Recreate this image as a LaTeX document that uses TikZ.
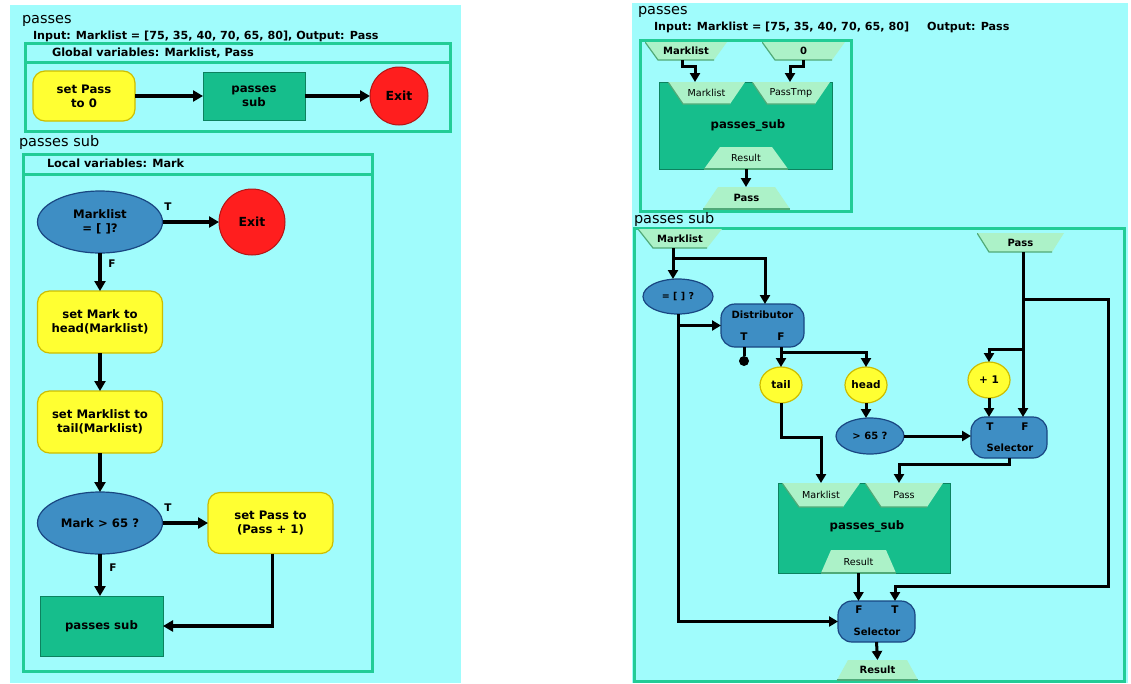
\documentclass[tikz,border=0pt]{standalone}
\usepackage{fontspec}
\setmainfont{DejaVu Sans}
\usetikzlibrary{arrows.meta,calc,shapes.geometric}
\definecolor{bgcyan}{RGB}{160,252,252}
\definecolor{framegreen}{RGB}{34,204,150}
\definecolor{boxgreen}{RGB}{22,190,140}
\definecolor{boxgreendk}{RGB}{12,130,95}
\definecolor{portgreen}{RGB}{172,242,200}
\definecolor{portgreendk}{RGB}{80,170,120}
\definecolor{decblue}{RGB}{62,142,196}
\definecolor{decbluedk}{RGB}{25,70,130}
\definecolor{actyellow}{RGB}{255,255,50}
\definecolor{actyellowdk}{RGB}{205,190,0}
\definecolor{exitred}{RGB}{255,30,30}
\definecolor{exitreddk}{RGB}{180,20,20}
\begin{document}
\begin{tikzpicture}[x=1pt,y=-1pt,
  every node/.style={inner sep=0pt, outer sep=0pt, align=center, font=\bfseries\fontsize{11.7}{14}\selectfont},
  title/.style={font=\fontsize{14.5}{16}\selectfont},
  inputtxt/.style={font=\bfseries\fontsize{11.15}{13}\selectfont},
  hdr/.style={font=\bfseries\fontsize{11.3}{13}\selectfont},
  frame/.style={draw=framegreen, line width=3pt},
  action/.style={draw=actyellowdk, fill=actyellow, line width=1.2pt, rounded corners=12pt},
  subbox/.style={draw=boxgreendk, fill=boxgreen, line width=1pt},
  dec/.style={ellipse, draw=decbluedk, fill=decblue, line width=1.2pt},
  blk/.style={draw=decbluedk, fill=decblue, line width=1.2pt, rounded corners=14pt},
  exitc/.style={circle, draw=exitreddk, fill=exitred, line width=1pt, font=\bfseries\fontsize{12.5}{14}\selectfont},
  yc/.style={ellipse, draw=actyellowdk, fill=actyellow, line width=1.2pt, font=\bfseries\fontsize{10.5}{12}\selectfont},
  tf/.style={font=\bfseries\fontsize{10.5}{12}\selectfont},
  sm/.style={font=\bfseries\fontsize{10}{11}\selectfont},
  portin/.style n args={3}{minimum width=#1pt, minimum height=#2pt,
    path picture={
      \fill[portgreen] (path picture bounding box.north west) -- (path picture bounding box.north east)
        -- ([xshift=-#3pt]path picture bounding box.south east) -- ([xshift=#3pt]path picture bounding box.south west) -- cycle;
      \draw[portgreendk, line width=1.2pt] (path picture bounding box.north west) -- ([xshift=#3pt]path picture bounding box.south west)
        -- ([xshift=-#3pt]path picture bounding box.south east);}},
  portout/.style n args={3}{minimum width=#1pt, minimum height=#2pt,
    path picture={
      \fill[portgreen] ([xshift=#3pt]path picture bounding box.north west) -- ([xshift=-#3pt]path picture bounding box.north east)
        -- (path picture bounding box.south east) -- (path picture bounding box.south west) -- cycle;
      \draw[portgreendk, line width=1.2pt] (path picture bounding box.south west) -- (path picture bounding box.south east);}},
  plabel/.style={font=\fontsize{9.6}{11}\selectfont},
  plabelb/.style={font=\bfseries\fontsize{10}{11}\selectfont},
  arrL/.style={line width=3.5pt, -{Triangle[length=10pt,width=11pt]}},
  arrR/.style={line width=3pt, -{Triangle[length=9pt,width=10pt]}},
  lineR/.style={line width=3pt}
]
\useasboundingbox (0,0) rectangle (1131,683);
% ---------------- left panel ----------------
\fill[bgcyan] (10,5) rectangle (461,683);
\node[title, anchor=west] (ttlA) at (22,21) {passes};
\node[inputtxt, anchor=west] (inA) at (33,36) {Input: Marklist = [75, 35, 40, 70, 65, 80], Output: Pass};
\node[frame, minimum width=425pt, minimum height=88pt] (gframe) at (237.5,87) {};
\draw[frame] (25,62) -- (450,62);
\node[hdr, anchor=west] (gvar) at (52,53) {Global variables: Marklist, Pass};
\node[action, minimum width=102pt, minimum height=50pt] (setp0) at (84,96) {set Pass\\to 0};
\node[subbox, minimum width=102pt, minimum height=48pt] (psub1) at (254,96) {passes\\sub};
\node[exitc, minimum size=58pt] (exit1) at (399,96) {Exit};
\draw[arrL] (setp0.east) -- (psub1.west);
\draw[arrL] (psub1.east) -- (exit1.west);

\node[title, anchor=west] (ttlB) at (19,142) {passes sub};
\node[frame, minimum width=349pt, minimum height=517pt] (lframe) at (197.5,412.5) {};
\draw[frame] (23,174) -- (372,174);
\node[hdr, anchor=west] (lvar) at (47,163) {Local variables: Mark};
\node[dec, minimum width=125pt, minimum height=62pt] (q1) at (100,222) {Marklist\\= [ ]?};
\node[exitc, minimum size=66pt] (exit2) at (252,222) {Exit};
\node[action, minimum width=125pt, minimum height=62pt] (setm) at (100,322) {set Mark to\\head(Marklist)};
\node[action, minimum width=125pt, minimum height=62pt] (setml) at (100,422) {set Marklist to\\tail(Marklist)};
\node[dec, minimum width=125pt, minimum height=62pt] (q2) at (100,523) {Mark > 65 ?};
\node[action, minimum width=125pt, minimum height=61pt] (setp1) at (270.5,523) {set Pass to\\(Pass + 1)};
\node[subbox, minimum width=123pt, minimum height=60pt] (psub2) at (101.5,626) {passes sub};
\node[tf] (tq1) at (168,207) {T};
\node[tf] (fq1) at (112,264) {F};
\node[tf] (tq2) at (168,508) {T};
\node[tf] (fq2) at (113,568) {F};
\draw[arrL] (q1.east) -- (exit2.west);
\draw[arrL] (q1.south) -- (setm.north);
\draw[arrL] (setm.south) -- (setml.north);
\draw[arrL] (setml.south) -- (q2.north);
\draw[arrL] (q2.east) -- (setp1.west);
\draw[arrL] (q2.south) -- (q2.south |- psub2.north);
\draw[arrL] ([xshift=2pt]setp1.south) |- (psub2.east);

% ---------------- right panel ----------------
\fill[bgcyan] (632,3) rectangle (1128,683);
\node[title, anchor=west] (ttlC) at (638,12) {passes};
\node[inputtxt, anchor=west] (inC) at (654,27) {Input: Marklist = [75, 35, 40, 70, 65, 80]\hspace{18pt}Output: Pass};
\node[frame, minimum width=211pt, minimum height=171pt] (tframe) at (745.5,125.5) {};
\node[portin={82}{18}{13}, plabelb] (pML) at (686,51) {Marklist};
\node[portin={83}{18}{13}, plabelb] (p0) at (803.5,51) {0};
\node[subbox, minimum width=173pt, minimum height=87pt] (psubA) at (745.5,125.5) {};
\node[portin={77}{22}{15}, plabel] (inML) at (706.5,93) {Marklist};
\node[portin={78}{22}{15}, plabel] (inPT) at (791,93) {PassTmp};
\node (psubAl) at (748,125) {passes\_sub};
\node[portout={84}{22}{16}, plabel] (outR) at (746,158) {Result};
\node[portout={87}{22}{15}, plabelb] (outP) at (746.5,198) {Pass};
\draw[arrR] ([xshift=-4pt]pML.south) -- ($(pML.south)+(-4,6)$) -| ([xshift=-11.5pt]inML.north);
\draw[arrR] (p0.south) -- ($(p0.south)+(0,6)$) -| ([xshift=-1pt]inPT.north);
\draw[arrR] (outR.south) -- (outR.south |- outP.north);

\node[title, anchor=west] (ttlD) at (634,219) {passes sub};
\node[frame, minimum width=490pt, minimum height=453pt] (bframe) at (879,454.5) {};
\node[portin={84}{19}{15}, plabelb] (sML) at (680,238.5) {Marklist};
\node[portin={87}{19}{12}, plabelb] (sPass) at (1020.5,242.5) {Pass};
\node[dec, minimum width=70pt, minimum height=35pt, font=\bfseries\fontsize{9.5}{11}\selectfont] (qe) at (678,296.5) {= [ ] ?};
\node[blk, minimum width=83pt, minimum height=43pt] (dist) at (762.5,325.5) {};
\node[sm] (distl) at (762.5,315) {Distributor};
\node[tf] (distT) at (744,337) {T};
\node[tf] (distF) at (781,337) {F};
\node[circle, fill=black, minimum size=10pt] (dotT) at (744,361) {};
\node[yc, minimum width=42pt, minimum height=36pt] (tail) at (781,385) {tail};
\node[yc, minimum width=42pt, minimum height=36pt] (head) at (866,385) {head};
\node[yc, minimum width=42pt, minimum height=36pt] (plus1) at (989,380) {+ 1};
\node[dec, minimum width=68pt, minimum height=36pt, font=\bfseries\fontsize{10}{11}\selectfont] (gt) at (870,436) {> 65 ?};
\node[blk, minimum width=76pt, minimum height=41pt] (sel1) at (1009,437.5) {};
\node[tf] (sel1T) at (990,427) {T};
\node[tf] (sel1F) at (1025,427) {F};
\node[sm] (sel1l) at (1010,448) {Selector};
\node[subbox, minimum width=172pt, minimum height=90pt] (psubB) at (864,528) {};
\node[portin={78}{24}{17}, plabel] (inML2) at (821,495) {Marklist};
\node[portin={78}{24}{16}, plabel] (inPass2) at (904,495) {Pass};
\node (psubBl) at (867,526) {passes\_sub};
\node[portout={75}{23}{10}, plabel] (outR2) at (858.5,561.5) {Result};
\node[blk, minimum width=77pt, minimum height=41pt] (sel2) at (876.5,621.5) {};
\node[tf] (sel2F) at (859,610) {F};
\node[tf] (sel2T) at (895,610) {T};
\node[sm] (sel2l) at (877,632) {Selector};
\node[portout={81}{20}{11}, plabelb] (outRes) at (877.5,670) {Result};

\coordinate (jML) at ($(sML.south)+(-7,10)$);
\coordinate (jQ) at (qe.south |- dist.west);
\coordinate (jF) at ($(dist.south)+(18.5,5)$);
\coordinate (jP1) at ($(sPass.south)+(2.5,47)$);
\coordinate (jP2) at ($(sPass.south)+(2.5,97)$);

\draw[arrR] ([xshift=-7pt]sML.south) -- ([xshift=-5pt]qe.north);
\draw[arrR] (jML) -| ([xshift=2.5pt]dist.north);
\draw[arrR] (qe.south) |- (sel2.west);
\draw[arrR] (jQ) -- (dist.west);
\draw[lineR] ([xshift=-18.5pt]dist.south) -- (dotT);
\draw[arrR] ([xshift=18.5pt]dist.south) -- (tail.north);
\draw[arrR] (jF) -| (head.north);
\draw[arrR] (head.south) -- (head.south |- gt.north);
\draw[arrR] (gt.east) -- (gt.east -| sel1.west);
\draw[arrR] (tail.south) -- ($(tail.south)+(0,34)$) -| (inML2.north);
\draw[arrR] (sel1.south) -- ($(sel1.south)+(0,6)$) -| ([xshift=-5pt]inPass2.north);
\draw[arrR] ([xshift=2.5pt]sPass.south) -- ([xshift=14pt]sel1.north);
\draw[arrR] (jP1) -- ++(85,0) -- ++(0,287) -| ([xshift=18.5pt]sel2.north);
\draw[arrR] (jP2) -| (plus1.north);
\draw[arrR] (plus1.south) -- (plus1.south |- sel1.north);
\draw[arrR] (outR2.south) -- (outR2.south |- sel2.north);
\draw[arrR] (sel2.south) -- (outRes.north);
\end{tikzpicture}
\end{document}
